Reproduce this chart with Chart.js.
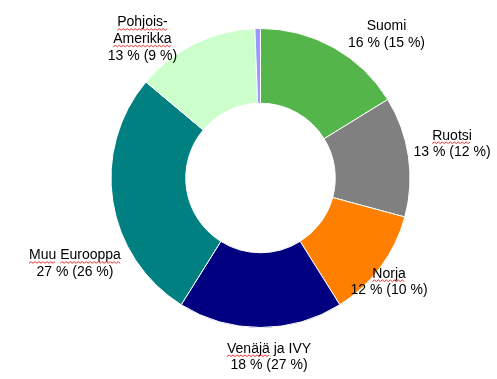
<!DOCTYPE html>
<html><head><meta charset="utf-8">
<script src="https://cdn.jsdelivr.net/npm/chart.js@4"></script>
<style>html,body{margin:0;padding:0;background:#fff;overflow:hidden}</style>
</head><body>
<canvas id="c" width="497" height="379"></canvas>
<script>
const categories = ['Suomi', 'Ruotsi', 'Norja', 'Venäjä ja IVY', 'Muu Eurooppa', 'Pohjois-Amerikka', 'Muut'];
const shares = [16.2, 13.0, 11.9, 17.8, 27.2, 13.3, 0.6];
const previousShares = [15, 12, 10, 27, 26, 9, null];
const colors = ['#54B64A', '#808080', '#FF7F00', '#000080', '#008080', '#CCFFCC', '#9999FF'];
const spellMarked = ['Ruotsi', 'Norja', 'Venäjä', 'Muu', 'Eurooppa', 'Pohjois-', 'Amerikka'];

// label block centres, relative to doughnut centre, in units of outer radius
const labelAnchors = [[0.84, -0.962], [1.277, -0.233], [0.857, 0.687], [0.057, 1.187], [-1.237, 0.565], [-0.787, -0.933], null];

function labelLines(i) {
  const name = categories[i].replace('-', '-\n').split('\n');
  return name.concat([Math.round(shares[i]) + ' % (' + previousShares[i] + ' %)']);
}

const labelPlugin = {
  id: 'sliceLabels',
  afterDraw(chart) {
    const ctx = chart.ctx;
    const arc0 = chart.getDatasetMeta(0).data[0];
    const cx = arc0.x, cy = arc0.y, R = 150;
    ctx.save();
    ctx.font = '14px "Liberation Sans", Arial, sans-serif';
    ctx.textAlign = 'left';
    ctx.textBaseline = 'alphabetic';
    const lh = 16.6;
    categories.forEach((c, i) => {
      const a = labelAnchors[i];
      if (!a) return;
      const lines = labelLines(i);
      const bx = cx + a[0] * R, by = cy + a[1] * R;
      lines.forEach((ln, k) => {
        const base = by + (k - (lines.length - 1) / 2) * lh + 5;
        const w = ctx.measureText(ln).width;
        const x0 = bx - w / 2;
        ctx.fillStyle = '#000';
        ctx.fillText(ln, x0, base);
        // spell-check style wavy underlines
        const words = ln.split(' ');
        let x = x0;
        words.forEach((wd, j) => {
          const ww = ctx.measureText(wd).width;
          if (spellMarked.includes(wd)) {
            ctx.beginPath();
            ctx.strokeStyle = '#F03030';
            ctx.lineWidth = 1;
            const y = base + 3;
            for (let p = 0; p <= ww; p += 2) {
              const yy = y + ((p / 2) % 2 === 0 ? 0.8 : -0.8);
              if (p === 0) ctx.moveTo(x + p, yy); else ctx.lineTo(x + p, yy);
            }
            ctx.stroke();
          }
          x += ww + ctx.measureText(' ').width;
        });
      });
    });
    ctx.restore();
  }
};

new Chart(document.getElementById('c'), {
  type: 'doughnut',
  data: {
    labels: categories,
    datasets: [{
      data: shares,
      backgroundColor: colors,
      borderColor: '#ffffff',
      borderWidth: 1
    }]
  },
  options: {
    responsive: false,
    animation: false,
    cutout: '50%',
    layout: { padding: { left: 110, right: 86, top: 28, bottom: 51 } },
    plugins: { legend: { display: false }, tooltip: { enabled: false } }
  },
  plugins: [labelPlugin]
});
</script>
</body></html>
